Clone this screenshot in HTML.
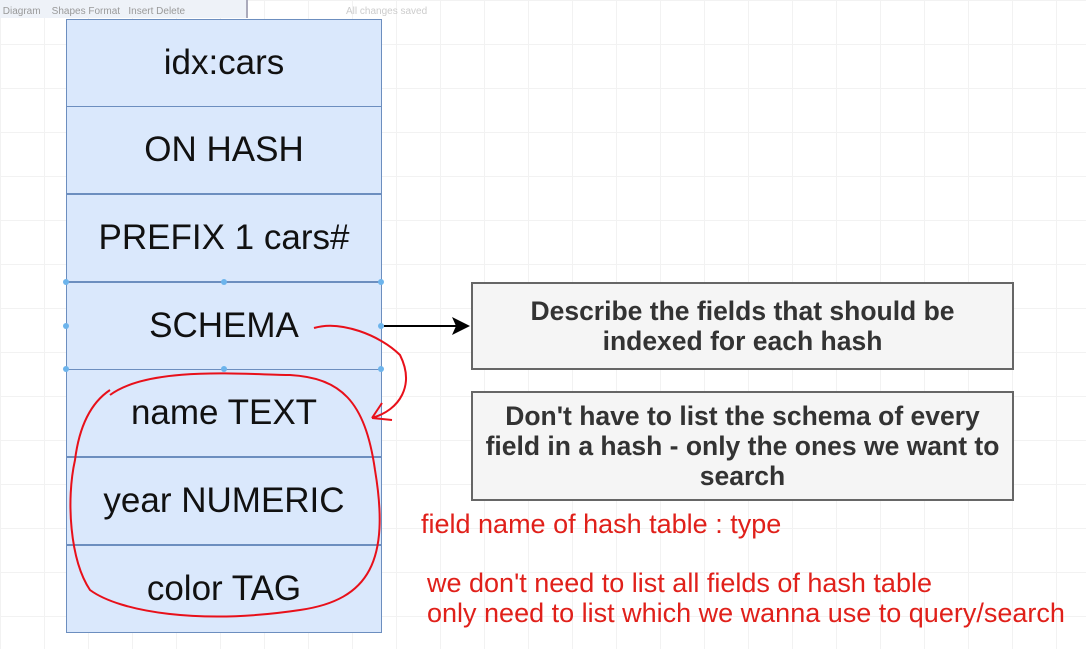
<!DOCTYPE html>
<html><head><style>
body{margin:0;width:1086px;height:649px;overflow:hidden;background:#fff;font-family:"Liberation Sans",sans-serif;position:relative;
background-image:linear-gradient(#f2f2f2 1px,transparent 1px),linear-gradient(90deg,#f2f2f2 1px,transparent 1px);background-size:44px 44px}
.row{position:absolute;left:66px;width:314px;height:86px;background:#dae8fc;border:1px solid #6c8ebf;display:flex;align-items:center;justify-content:center;font-size:35px;color:#111}
.box{position:absolute;left:471px;width:539px;background:#f5f5f5;border:2px solid #666;display:flex;align-items:center;justify-content:center;text-align:center;font-weight:bold;font-size:26.5px;color:#333;line-height:30px}
.red{position:absolute;color:#e0201a;font-size:27px;white-space:nowrap}
</style></head><body>
<div style="position:absolute;left:0;top:0;width:246px;height:18px;background:#eef2f8;border-right:2px solid #aab;font-size:10px;color:#999;line-height:24px">&nbsp;Diagram &nbsp;&nbsp; Shapes Format &nbsp; Insert Delete</div>
<div style="position:absolute;left:346px;top:6px;font-size:10px;color:#ccc">All changes saved</div>
<div class="row" style="top:19px">idx:cars</div>
<div class="row" style="top:106px">ON HASH</div>
<div class="row" style="top:194px">PREFIX 1 cars#</div>
<div class="row" style="top:282px">SCHEMA</div>
<div class="row" style="top:369px">name TEXT</div>
<div class="row" style="top:457px">year NUMERIC</div>
<div class="row" style="top:545px">color TAG</div>
<div class="box" style="top:282px;height:84px">Describe the fields that should be<br>indexed for each hash</div>
<div class="box" style="top:391px;height:106px">Don't have to list the schema of every<br>field in a hash - only the ones we want to<br>search</div>
<div class="red" style="left:421px;top:509px">field name of hash table : type</div>
<div class="red" style="left:427px;top:568px;line-height:30px">we don't need to list all fields of hash table<br>only need to list which we wanna use to query/search</div>
<svg width="1086" height="649" style="position:absolute;left:0;top:0">
<line x1="384" y1="326" x2="456" y2="326" stroke="#000" stroke-width="2"/>
<polygon points="470,326 452,317 456,326 452,335" fill="#000"/>
<g fill="#6cb4ec"><circle cx="66" cy="282" r="3"/><circle cx="224" cy="282" r="3"/><circle cx="381" cy="282" r="3"/><circle cx="66" cy="326" r="3"/><circle cx="381" cy="326" r="3"/><circle cx="66" cy="369" r="3"/><circle cx="224" cy="369" r="3"/><circle cx="381" cy="369" r="3"/></g>
<path d="M314 328 C340 320 380 335 400 355 C415 385 400 410 372 418 M372 418 L382 403 M372 418 L392 420" stroke="#e8101a" stroke-width="2" fill="none"/>
<path d="M110 395 C150 365 250 375 290 375 C340 378 365 400 375 470 C390 560 370 600 300 610 C200 625 120 612 90 590 C70 560 66 500 75 460 C80 420 95 400 110 390" stroke="#e8101a" stroke-width="2" fill="none"/>
</svg>
</body></html>
